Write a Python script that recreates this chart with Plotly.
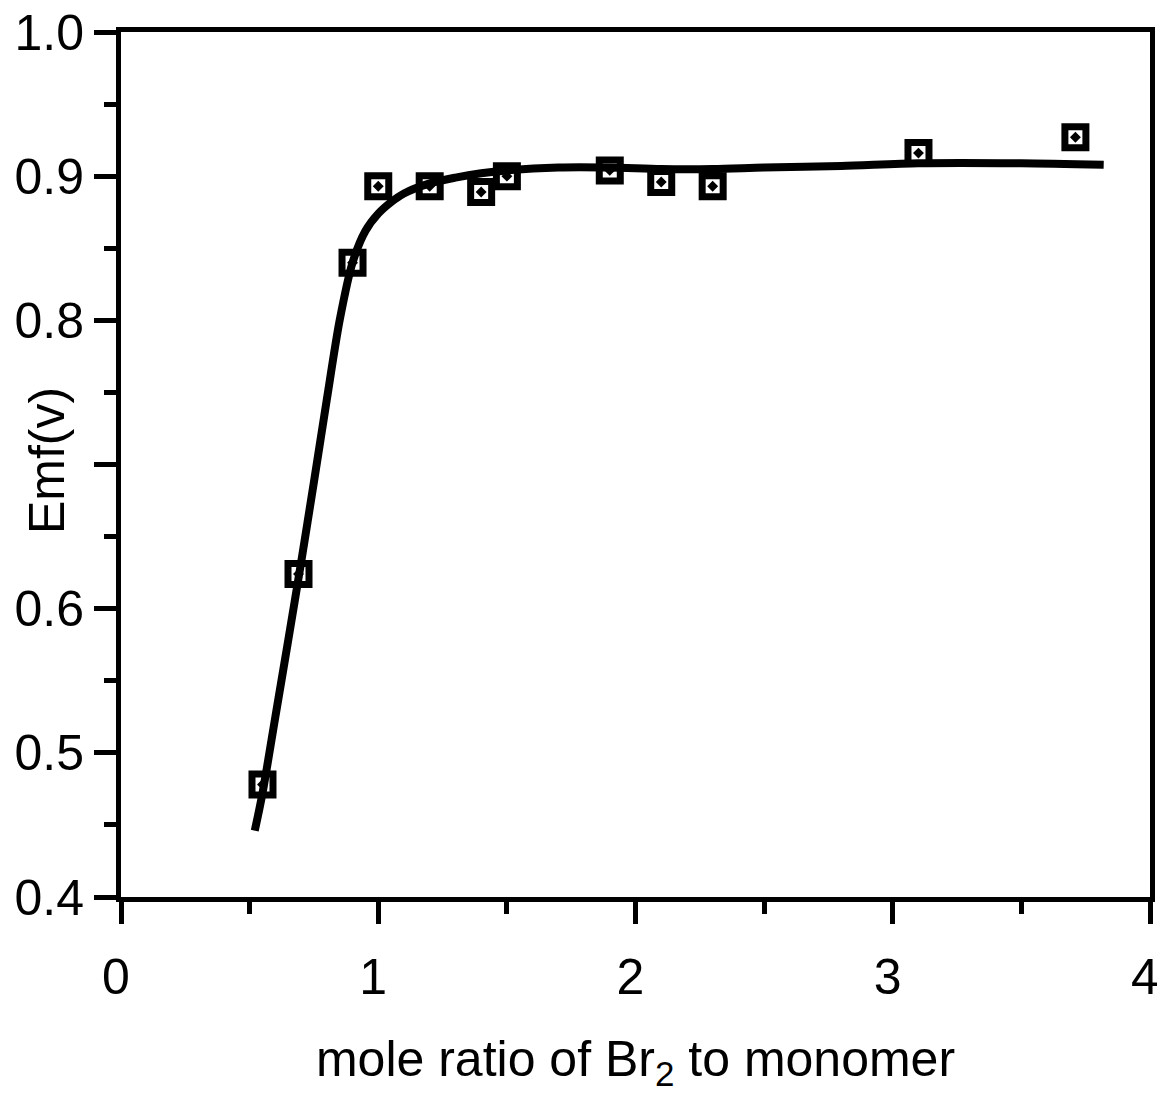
import plotly.graph_objects as go

# measured points
ratio_pts = [0.55, 0.69, 0.90, 1.00, 1.20, 1.40, 1.50, 1.90, 2.10, 2.30, 3.10, 3.71]
emf_pts = [0.478, 0.624, 0.840, 0.893, 0.893, 0.889, 0.900, 0.904, 0.896, 0.893, 0.916, 0.927]

# fitted curve
ratio_fit = [0.52, 0.55, 0.60, 0.65, 0.70, 0.75, 0.80, 0.85, 0.90, 0.95, 1.00, 1.05, 1.10,
             1.20, 1.30, 1.40, 1.50, 1.70, 1.90, 2.10, 2.30, 2.50, 2.80, 3.10, 3.50, 3.82]
emf_fit = [0.446, 0.472, 0.525, 0.578, 0.632, 0.688, 0.745, 0.800, 0.840, 0.862, 0.874, 0.882, 0.888,
           0.895, 0.899, 0.902, 0.904, 0.906, 0.906, 0.905, 0.905, 0.906, 0.907, 0.909, 0.909, 0.908]

x_ticks = [0, 1, 2, 3, 4]
y_ticks = [0.4, 0.5, 0.6, 0.7, 0.8, 0.9, 1.0]
y_tick_labels = ["0.4", "0.5", "0.6", "", "0.8", "0.9", "1.0"]

FONT = "Liberation Sans, Arial, Helvetica, sans-serif"
FS = 50

fig = go.Figure()
fig.add_trace(go.Scatter(x=ratio_fit, y=emf_fit, mode="lines",
                         line=dict(color="black", width=8, shape="spline", smoothing=0.8),
                         showlegend=False, hoverinfo="skip"))
fig.add_trace(go.Scatter(x=ratio_pts, y=emf_pts, mode="markers",
                         marker=dict(symbol="square-open-dot", size=21, color="black",
                                     line=dict(color="black", width=7)),
                         showlegend=False))

fig.update_layout(
    width=1165, height=1093,
    margin=dict(l=113, r=23, t=24, b=204),
    paper_bgcolor="white", plot_bgcolor="white",
    font=dict(family=FONT, size=FS, color="black"),
)
fig.update_xaxes(
    range=[0, 4], tickvals=x_ticks, ticktext=[str(v) for v in x_ticks],
    showgrid=False, zeroline=False, showline=True, linecolor="black", linewidth=5, mirror=True,
    ticks="outside", ticklen=22, tickwidth=5, tickcolor="black",
    ticklabelstandoff=10, ticklabelshift=-5, automargin=False, ticklabeloverflow="allow",
    minor=dict(tickvals=[0.5, 1.5, 2.5, 3.5], ticks="outside", ticklen=12, tickwidth=5, tickcolor="black"),
    tickfont=dict(size=FS),
    title=dict(text="mole ratio of Br<sub>2</sub> to monomer", font=dict(size=FS), standoff=38),
)
fig.update_yaxes(
    range=[0.4, 1.0], tickvals=y_ticks, ticktext=y_tick_labels,
    showgrid=False, zeroline=False, showline=True, linecolor="black", linewidth=5, mirror=True,
    ticks="outside", ticklen=22, tickwidth=5, tickcolor="black",
    ticklabelstandoff=0, automargin=False, ticklabeloverflow="allow",
    minor=dict(tickvals=[0.45, 0.55, 0.65, 0.75, 0.85, 0.95], ticks="outside", ticklen=12, tickwidth=5, tickcolor="black"),
    tickfont=dict(size=FS),
)
fig.add_annotation(text="Emf(v)", xref="paper", yref="paper", x=-0.072, y=0.505,
                   xanchor="center", yanchor="middle", textangle=-90, showarrow=False,
                   font=dict(size=FS, family=FONT, color="black"))

fig.write_html("out.html")
